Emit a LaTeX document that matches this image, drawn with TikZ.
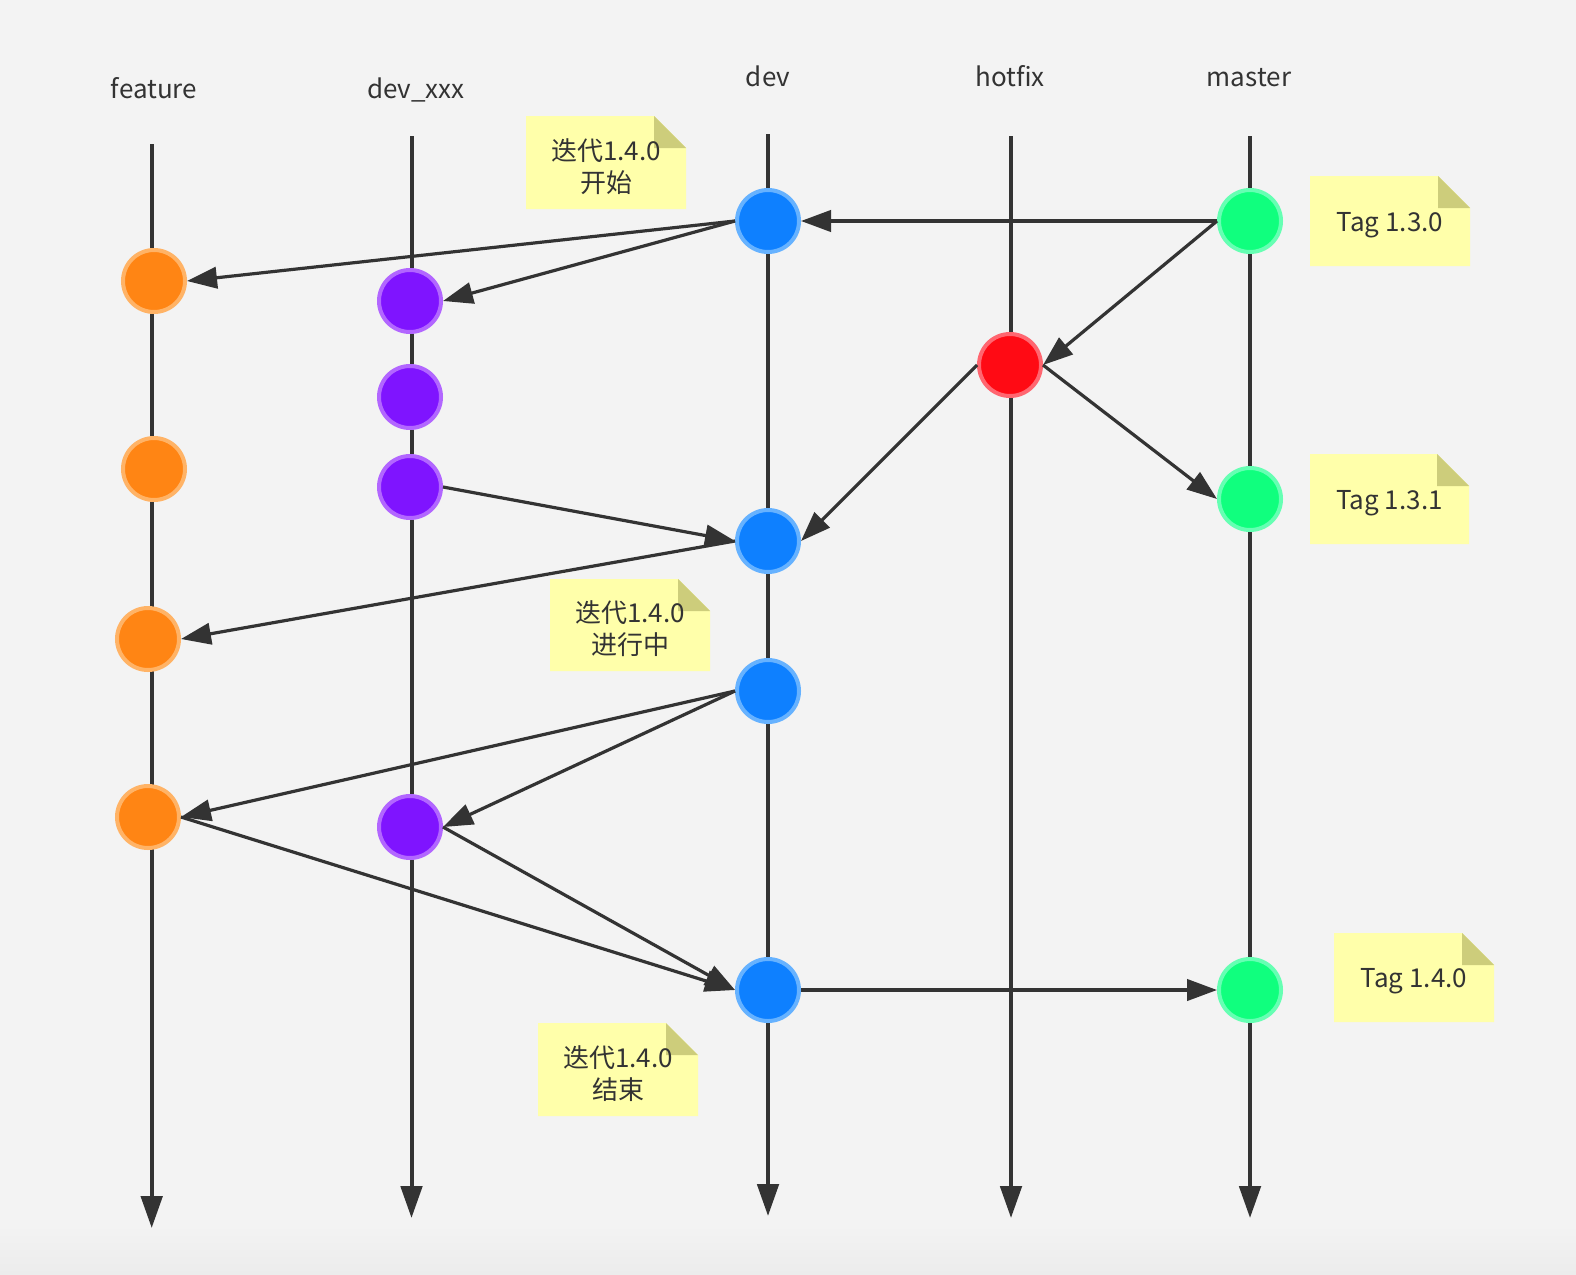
\documentclass[tikz,border=0pt]{standalone}
\usepackage{fontspec}
\setmainfont{Noto Sans CJK SC}
\usetikzlibrary{arrows.meta}
\definecolor{ink}{HTML}{333333}
\definecolor{bg}{HTML}{F3F3F3}
\definecolor{bgbottom}{HTML}{ECECEC}
\definecolor{notefillc}{HTML}{FFFFAA}
\definecolor{notefoldc}{HTML}{CDCD7B}
\definecolor{devfill}{HTML}{0E80FF}
\definecolor{devline}{HTML}{66B2FF}
\definecolor{featfill}{HTML}{FF8514}
\definecolor{featline}{HTML}{FFB366}
\definecolor{xxxfill}{HTML}{7F14FF}
\definecolor{xxxline}{HTML}{B266FF}
\definecolor{hotfill}{HTML}{FF0A14}
\definecolor{hotline}{HTML}{FF6670}
\definecolor{mstfill}{HTML}{10FF7E}
\definecolor{mstline}{HTML}{66FFB3}
\newcommand\stickynote[6]{%
  \fill[notefillc] (#2,#3) -- ({#4-32},#3) -- (#4,{#3+32}) -- (#4,#5) -- (#2,#5) -- cycle;
  \fill[notefoldc] ({#4-32},#3) -- ({#4-32},{#3+32}) -- (#4,{#3+32}) -- cycle;
  \node[notetext] (#1) at ({(#2+#4)/2},{(#3+#5)/2}) {#6};
}
\begin{document}
\begin{tikzpicture}[x=0.75pt,y=-0.75pt,
  txt/.style={text=ink,font=\fontsize{19.5pt}{24pt}\selectfont,inner sep=0pt},
  lbl/.style={txt,anchor=base},
  notetext/.style={txt,align=center,yshift=-3pt},
  commit/.style={circle,minimum size=46.5pt,inner sep=0pt,line width=3pt},
  devc/.style={commit,fill=devfill,draw=devline},
  featc/.style={commit,fill=featfill,draw=featline},
  xxxc/.style={commit,fill=xxxfill,draw=xxxline},
  hotc/.style={commit,fill=hotfill,draw=hotline},
  mstc/.style={commit,fill=mstfill,draw=mstline},
  lane/.style={draw=ink,line width=3pt,-{Triangle[length=24pt,width=16pt]}},
  arr/.style={draw=ink,line width=2.4pt,-{Triangle[length=22.5pt,width=16pt]}}
]
\useasboundingbox (0,0) rectangle (1576,1274);
\fill[bg] (0,0) rectangle (1576,1274);
\shade[top color=bg,bottom color=bgbottom] (0,1225) rectangle (1576,1274);

% lane labels
\node[lbl] (lfeat) at (154,98) {feature};
\node[lbl] (lxxx) at (416,98) {dev\_xxx};
\node[lbl] (ldev) at (768,86.5) {dev};
\node[lbl] (lhot) at (1010,86.5) {hotfix};
\node[lbl] (lmst) at (1249,86.5) {master};

% lanes
\coordinate (ftop) at (151.7,144); \coordinate (fbot) at (151.7,1228);
\coordinate (xtop) at (411.5,136); \coordinate (xbot) at (411.5,1218);
\coordinate (dtop) at (768,134);   \coordinate (dbot) at (768,1216);
\coordinate (htop) at (1011,136);  \coordinate (hbot) at (1011,1218);
\coordinate (mtop) at (1250,136);  \coordinate (mbot) at (1250,1218);
\draw[lane] (ftop) -- (fbot);
\draw[lane] (xtop) -- (xbot);
\draw[lane] (dtop) -- (dbot);
\draw[lane] (htop) -- (hbot);
\draw[lane] (mtop) -- (mbot);

% notes
\stickynote{n1}{526}{116}{686}{209}{迭代1.4.0\\开始}
\stickynote{n2}{1310}{176}{1470}{266}{Tag 1.3.0}
\stickynote{n3}{1310}{454}{1469}{544}{Tag 1.3.1}
\stickynote{n4}{550}{579}{710}{671}{迭代1.4.0\\进行中}
\stickynote{n5}{1334}{933}{1494}{1022}{Tag 1.4.0}
\stickynote{n6}{538}{1023}{698}{1116}{迭代1.4.0\\结束}

% commits
\node[devc] (dev1) at (768,221) {};
\node[devc] (dev2) at (768,541) {};
\node[devc] (dev3) at (768,691) {};
\node[devc] (dev4) at (768,990) {};
\node[featc] (feat1) at (154,281) {};
\node[featc] (feat2) at (154,469) {};
\node[featc] (feat3) at (148,639) {};
\node[featc] (feat4) at (148,817) {};
\node[xxxc] (xxx1) at (410,301) {};
\node[xxxc] (xxx2) at (410,397) {};
\node[xxxc] (xxx3) at (410,487) {};
\node[xxxc] (xxx4) at (410,827) {};
\node[hotc] (hot1) at (1010,365) {};
\node[mstc] (mst1) at (1250,221) {};
\node[mstc] (mst2) at (1250,499) {};
\node[mstc] (mst3) at (1250,990) {};

% connectors
\draw[arr] (mst1.west) -- (dev1.east);
\draw[arr] (dev1.west) -- (feat1.east);
\draw[arr] (dev1.west) -- (xxx1.east);
\draw[arr] (mst1.west) -- (hot1.east);
\draw[arr] (hot1.west) -- (dev2.east);
\draw[arr] (hot1.east) -- (mst2.west);
\draw[arr] (xxx3.east) -- (dev2.west);
\draw[arr] (dev2.west) -- (feat3.east);
\draw[arr] (dev3.west) -- (feat4.east);
\draw[arr] (dev3.west) -- (xxx4.east);
\draw[arr] (feat4.east) -- (dev4.west);
\draw[arr] (xxx4.east) -- (dev4.west);
\draw[arr] (dev4.east) -- (mst3.west);
\end{tikzpicture}
\end{document}
